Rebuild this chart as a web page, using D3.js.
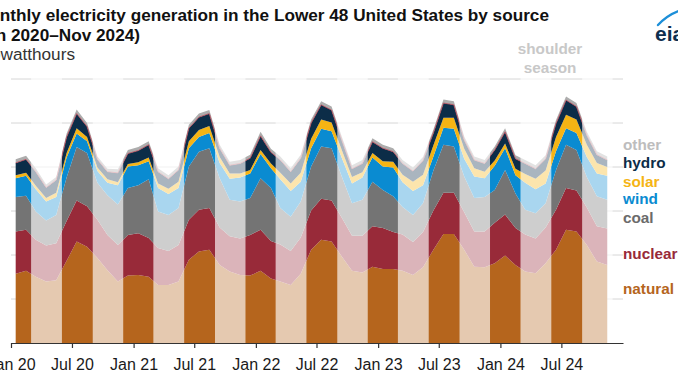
<!DOCTYPE html>
<html>
<head>
<meta charset="utf-8">
<script src="https://cdn.jsdelivr.net/npm/d3@7"></script>
<style>
  html, body { margin: 0; padding: 0; background: #fff; }
  svg { display: block; font-family: "Liberation Sans", Arial, sans-serif; }
</style>
</head>
<body>
<svg id="chart" width="678" height="381"></svg>
<script>
// ---- data (billion kilowatthours) ----
const startMonth = "2020-01";
const monthCount = 59; // Jan 2020 – Nov 2024
const naturalGas = [118,123,113,105,107,140,173,164,145,124,105,115, 116,113,99,99,105,142,156,159,133,122,116,115, 123,110,105,99,118,159,176,173,147,123,120,130, 126,126,123,116,129,159,186,186,159,130,129,136, 149,133,122,119,136,159,193,190,167,139,133];
const nuclear    = [72,70,63,61,63,68,70,69,65,60,62,69, 71,66,63,58,62,68,71,71,64,60,62,69, 70,64,63,58,62,67,70,70,66,60,63,69, 70,63,62,56,60,67,70,70,64,60,61,69, 70,63,63,59,61,68,71,70,64,60,62];
const coal       = [59,58,48,43,48,74,91,91,63,68,69,80, 82,100,62,61,63,91,99,102,84,62,63,63, 88,90,62,58,61,75,89,89,70,55,61,76, 65,61,47,46,49,68,82,79,61,57,59,56, 76,59,42,43,41,68,74,69,52,51,49];
const wind       = [32,34,38,32,31,34,23,20,20,21,33,37, 34,31,40,36,34,31,25,26,26,36,41,42, 41,34,49,44,34,31,30,29,32,34,38,41, 40,49,42,41,31,24,29,30,30,37,32,41, 37,31,46,41,34,32,28,29,34,39,41];
const solar      = [5,5,6,6,7,8,9,7,6,6,5,4, 5,6,8,9,11,12,12,12,10,9,7,6, 7,8,11,13,15,16,16,15,13,11,9,8, 9,10,13,16,18,19,17,19,17,14,11,9, 8,11,15,18,22,24,23,23,21,18,15];
const hydro      = [21,23,24,18,22,27,25,18,14,13,16,18, 20,22,20,17,20,22,22,21,15,14,17,20, 24,19,22,20,25,27,25,21,17,14,15,19, 22,17,19,18,24,21,25,22,15,14,14,18, 20,17,18,17,20,23,25,22,16,14,12];
const other      = [6,6,6,5,5,6,7,6,5,5,6,6, 6,6,6,6,6,6,6,6,6,6,6,6, 7,6,6,6,6,6,6,6,6,6,6,6, 6,6,6,6,6,6,6,6,6,6,6,6, 6,6,6,6,6,6,6,6,6,6,6];

const seriesKeys   = ["naturalGas","nuclear","coal","wind","solar","hydro","other"];
const legendLabels = ["natural gas","nuclear","coal","wind","solar","hydro","other"];
const xTickLabels  = ["Jan 20","Jul 20","Jan 21","Jul 21","Jan 22","Jul 22","Jan 23","Jul 23","Jan 24","Jul 24"];
const yTickValues  = [0,75,150,225,300,375,450];
const shoulderMonths = [2,3,4,8,9,10]; // Mar–May, Sep–Nov

// ---- styles ----
const colors = {
  naturalGas: "#b5651d", nuclear: "#982a39", coal: "#747474", wind: "#0a8bd1",
  solar: "#f5b414", hydro: "#0c2d48", other: "#adadad"
};
const legendColors = {
  naturalGas: "#b5651d", nuclear: "#982a39", coal: "#6b6b6b", wind: "#0a8bd1",
  solar: "#f5b414", hydro: "#0c2d48", other: "#bdbdbd"
};
const legendBaselines = { other: 149.5, hydro: 168, solar: 186.5, wind: 204, coal: 222.5, nuclear: 259, naturalGas: 294 };

// ---- build table ----
const parseMonth = d3.timeParse("%Y-%m");
const first = parseMonth(startMonth);
const series = { naturalGas, nuclear, coal, wind, solar, hydro, other };
const rows = d3.range(monthCount).map(i => {
  const m = d3.timeMonth.offset(first, i);
  const r = { month: m, date: new Date(m.getFullYear(), m.getMonth(), 15) };
  seriesKeys.forEach(k => r[k] = series[k][i]);
  return r;
});

const svg = d3.select("#chart");
const x = d3.scaleTime()
  .domain([first, d3.timeMonth.offset(first, monthCount + 1)])
  .range([11, 623]);
const y = d3.scaleLinear().domain([0, 450]).range([343, 79]);

// gridlines
svg.append("g").selectAll("line")
  .data(yTickValues.filter(v => v > 0))
  .join("line")
  .attr("x1", 11).attr("x2", 623)
  .attr("y1", d => y(d)).attr("y2", d => y(d))
  .attr("stroke", "#d6d6d6").attr("stroke-width", 1);

// stacked areas
const stack = d3.stack().keys(seriesKeys);
const layers = stack(rows);
const area = d3.area()
  .x(d => x(d.data.date))
  .y0(d => y(d[0]))
  .y1(d => y(d[1]))
  .curve(d3.curveLinear);

svg.append("g").selectAll("path")
  .data(layers)
  .join("path")
  .attr("d", area)
  .attr("fill", d => colors[d.key]);

// thin edge on top of hydro
const hydroLayer = layers.find(l => l.key === "hydro");
svg.append("path")
  .datum(hydroLayer)
  .attr("d", d3.line().x(d => x(d.data.date)).y(d => y(d[1])))
  .attr("fill", "none").attr("stroke", "#b9505f").attr("stroke-width", 0.9);

// shoulder-season overlay bands (merged contiguous months)
const bands = [];
rows.forEach(r => {
  const isShoulder = shoulderMonths.includes(r.month.getMonth());
  if (!isShoulder) return;
  const s = r.month, e = d3.timeMonth.offset(r.month, 1);
  const last = bands[bands.length - 1];
  if (last && +last.end === +s) last.end = e; else bands.push({ start: s, end: e });
});
svg.append("g").selectAll("rect")
  .data(bands)
  .join("rect")
  .attr("x", d => x(d.start))
  .attr("width", d => x(d.end) - x(d.start))
  .attr("y", 74).attr("height", 343 - 74)
  .attr("fill", "#fff").attr("fill-opacity", 0.65);

// x axis
const tickDates = xTickLabels.map(d3.timeParse("%b %y"));
const xAxis = d3.axisBottom(x)
  .tickValues(tickDates)
  .tickFormat(d3.timeFormat("%b %y"))
  .tickSize(5).tickSizeOuter(0).tickPadding(11);
const gx = svg.append("g").attr("transform", "translate(0,343)").call(xAxis);
gx.select(".domain").attr("stroke", "#333").attr("stroke-width", 1.2);
gx.selectAll(".tick line").attr("stroke", "#333").attr("stroke-width", 1.2);
gx.selectAll(".tick text")
  .attr("fill", "#1a1a1a")
  .style("font-family", "'Liberation Sans', Arial, sans-serif")
  .style("font-size", "16px");

// legend labels
svg.append("g").selectAll("text")
  .data(seriesKeys)
  .join("text")
  .attr("x", 623)
  .attr("y", d => legendBaselines[d])
  .attr("fill", d => legendColors[d])
  .style("font-size", "15.3px").style("font-weight", "bold")
  .text((d, i) => legendLabels[i]);

// shoulder season label
const sl = svg.append("text")
  .attr("text-anchor", "middle")
  .attr("fill", "#c8c8c8")
  .style("font-size", "15.3px").style("font-weight", "bold");
sl.append("tspan").attr("x", 550).attr("y", 54).text("shoulder");
sl.append("tspan").attr("x", 550).attr("y", 73).text("season");

// title block (partially outside the picture on the left)
svg.append("text").attr("x", 549).attr("y", 21).attr("text-anchor", "end")
  .attr("fill", "#111").style("font-size", "17.2px").style("font-weight", "bold")
  .text("Monthly electricity generation in the Lower 48 United States by source");
svg.append("text").attr("x", 140).attr("y", 41).attr("text-anchor", "end")
  .attr("fill", "#111").style("font-size", "17.2px").style("font-weight", "bold")
  .text("(Jan 2020–Nov 2024)");
svg.append("text").attr("x", 75).attr("y", 60).attr("text-anchor", "end")
  .attr("fill", "#333").style("font-size", "17.2px")
  .text("billion kilowatthours");

// eia logo (partly cut at the right)
svg.append("path")
  .attr("d", "M658,25 Q669,13 685,9")
  .attr("fill", "none").attr("stroke", "#1d8fd8").attr("stroke-width", 2.4)
  .attr("stroke-linecap", "round");
svg.append("text").attr("x", 655).attr("y", 41)
  .attr("fill", "#0f2f4f").style("font-size", "21px").style("font-weight", "bold")
  .text("eia");
</script>
</body>
</html>
